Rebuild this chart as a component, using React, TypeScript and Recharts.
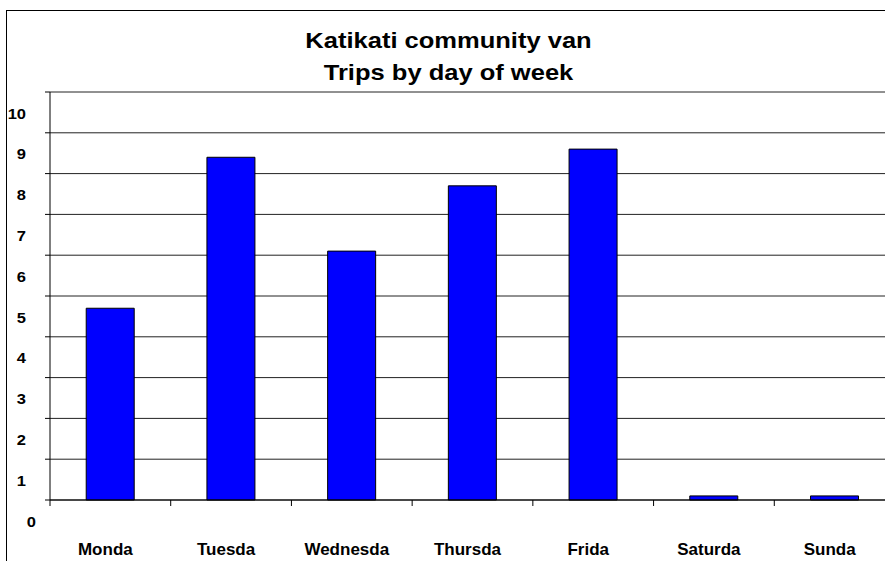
import React from 'react';
import { BarChart, Bar, XAxis, YAxis, CartesianGrid } from 'recharts';

const days = ['Monda', 'Tuesda', 'Wednesda', 'Thursda', 'Frida', 'Saturda', 'Sunda'];
const trips = [4.7, 8.4, 6.1, 7.7, 8.6, 0.1, 0.1];
const yTicks = [0, 1, 2, 3, 4, 5, 6, 7, 8, 9, 10];
const titleLines = ['Katikati community van', 'Trips by day of week'];

const data = days.map((d, i) => ({ day: d, trips: trips[i] }));

const CHART_W = 910;
const CHART_H = 561;
const PLOT_LEFT = 50;
const PLOT_RIGHT = 895;
const BAND = (PLOT_RIGHT - PLOT_LEFT) / days.length;
const FONT = '"Liberation Sans", Arial, sans-serif';

const YTick = (props: any) => {
  const { y, payload } = props;
  const isZero = payload.value === 0;
  const tx = isZero ? 36 : 26;
  const ty = y + 26.5;
  return (
    <text
      transform={`translate(${tx},${ty}) scale(1.1,1)`}
      x={0}
      y={0}
      textAnchor="end"
      fontFamily={FONT}
      fontWeight="bold"
      fontSize={15}
      fill="#000"
    >
      {payload.value}
    </text>
  );
};

const XTick = (props: any) => {
  const { x, payload } = props;
  const left = x - BAND / 2;
  return (
    <g>
      <line x1={left} y1={500} x2={left} y2={506} stroke="#000" strokeWidth={1} />
      <text
        x={x - 5}
        y={555}
        textAnchor="middle"
        fontFamily={FONT}
        fontWeight="bold"
        fontSize={17}
        fill="#000"
      >
        {payload.value}
      </text>
    </g>
  );
};

export default function App() {
  return (
    <div
      style={{
        position: 'fixed',
        left: 0,
        top: 0,
        width: 885,
        height: 561,
        overflow: 'hidden',
        background: '#fff',
      }}
    >
      <div
        style={{
          position: 'absolute',
          left: 6,
          top: 10,
          width: 2000,
          height: 2000,
          borderLeft: '1.5px solid #000',
          borderTop: '1.5px solid #000',
        }}
      />
      <div style={{ position: 'absolute', left: 0, top: 0 }}>
        <BarChart
          width={CHART_W}
          height={CHART_H}
          data={data}
          margin={{ top: 92, right: CHART_W - PLOT_RIGHT, left: 0, bottom: 0 }}
          barCategoryGap="30%"
        >
          <CartesianGrid vertical={false} stroke="#222" strokeWidth={1} />
          <XAxis
            dataKey="day"
            height={61}
            interval={0}
            tickLine={false}
            axisLine={{ stroke: '#000', strokeWidth: 1 }}
            tick={<XTick />}
          />
          <YAxis
            width={PLOT_LEFT}
            domain={[0, 10]}
            ticks={yTicks}
            interval={0}
            tickSize={5}
            tickLine={{ stroke: '#000' }}
            axisLine={{ stroke: '#000', strokeWidth: 1 }}
            tick={<YTick />}
          />
          <Bar dataKey="trips" fill="#0000FF" stroke="#000" strokeWidth={1} isAnimationActive={false} />
        </BarChart>
      </div>
      <svg
        width={885}
        height={100}
        style={{ position: 'absolute', left: 0, top: 0 }}
      >
        {titleLines.map((t, i) => (
          <text
            key={i}
            transform={`translate(448.5,${48 + i * 32}) scale(1.16,1)`}
            x={0}
            y={0}
            textAnchor="middle"
            fontFamily={FONT}
            fontWeight="bold"
            fontSize={22}
            fill="#000"
          >
            {t}
          </text>
        ))}
      </svg>
    </div>
  );
}
